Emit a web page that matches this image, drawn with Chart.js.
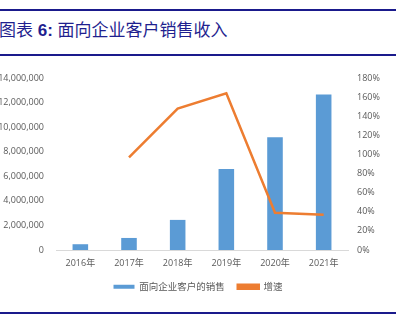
<!DOCTYPE html>
<html>
<head>
<meta charset="utf-8">
<script src="https://cdn.jsdelivr.net/npm/chart.js@4"></script>
<style>
  html, body { margin: 0; padding: 0; background: #fff; width: 396px; height: 325px; overflow: hidden; }
  .rule { position: absolute; left: 0; width: 396px; height: 2px; background: #1a1a8c; }
  #title { position: absolute; left: -1px; top: 19px; font-family: "Liberation Sans", "Noto Sans CJK SC", sans-serif; font-size: 17px; color: #1f1f8f; white-space: nowrap; line-height: 20px; }
  #title b { font-weight: bold; }
  #wrap { position: absolute; left: 0; top: 60px; width: 396px; height: 235px; }
</style>
</head>
<body>
<div class="rule" style="top:9px"></div>
<div id="title"><span style="font-family:'Noto Sans CJK SC'">图表</span> <b>6:</b> <span style="font-family:'Noto Sans CJK SC'">面向企业客户销售收入</span></div>
<div class="rule" style="top:54px"></div>
<div id="wrap"><canvas id="c"></canvas></div>
<div class="rule" style="top:312px"></div>
<script>
const categories = ["2016年", "2017年", "2018年", "2019年", "2020年", "2021年"];
const salesValues = [470000, 980000, 2450000, 6590000, 9170000, 12650000];
const growthValues = [null, 97, 148, 164, 39, 37];
const salesLabel = "面向企业客户的销售";
const growthLabel = "增速";

const tickFont = { family: "'Open Sans', 'Noto Sans CJK SC', sans-serif", size: 9 };
const tickColor = "#595959";

new Chart(document.getElementById("c"), {
  data: {
    labels: categories,
    datasets: [
      {
        type: "line",
        label: growthLabel,
        data: growthValues,
        yAxisID: "y2",
        borderColor: "#ED7D31",
        backgroundColor: "#ED7D31",
        borderWidth: 2.5,
        pointRadius: 0,
        tension: 0,
        order: 0
      },
      {
        type: "bar",
        label: salesLabel,
        data: salesValues,
        yAxisID: "y",
        backgroundColor: "#5B9BD5",
        borderColor: "#5B9BD5",
        borderWidth: 0,
        barPercentage: 0.32,
        categoryPercentage: 1.0,
        order: 1
      }
    ]
  },
  options: {
    responsive: true,
    maintainAspectRatio: false,
    animation: false,
    layout: { padding: { top: 18, bottom: 0, left: 0, right: 0 } },
    plugins: {
      legend: {
        position: "bottom",
        reverse: true,
        maxHeight: 26,
        labels: {
          font: { family: "'Noto Sans CJK SC', sans-serif", size: 9.5 },
          color: tickColor,
          boxWidth: 21,
          boxHeight: 4,
          padding: 13
        }
      },
      tooltip: { enabled: false }
    },
    scales: {
      x: {
        grid: { display: false, drawTicks: false },
        border: { display: true, color: "#D9D9D9", width: 1 },
        ticks: { font: tickFont, color: tickColor, padding: 8 },
        afterFit: s => { s.height = 19; }
      },
      y: {
        position: "left",
        min: 0,
        max: 14000000,
        grid: { display: false, drawTicks: false },
        border: { display: false },
        ticks: {
          stepSize: 2000000,
          font: tickFont,
          color: tickColor,
          padding: 12,
          callback: v => v.toLocaleString("en-US")
        },
        afterFit: s => { s.width = 56; }
      },
      y2: {
        position: "right",
        min: 0,
        max: 180,
        grid: { display: false, drawTicks: false },
        border: { display: false },
        ticks: {
          stepSize: 20,
          font: tickFont,
          color: tickColor,
          padding: 9,
          callback: v => v + "%"
        },
        afterFit: s => { s.width = 48; }
      }
    }
  }
});
</script>
</body>
</html>
